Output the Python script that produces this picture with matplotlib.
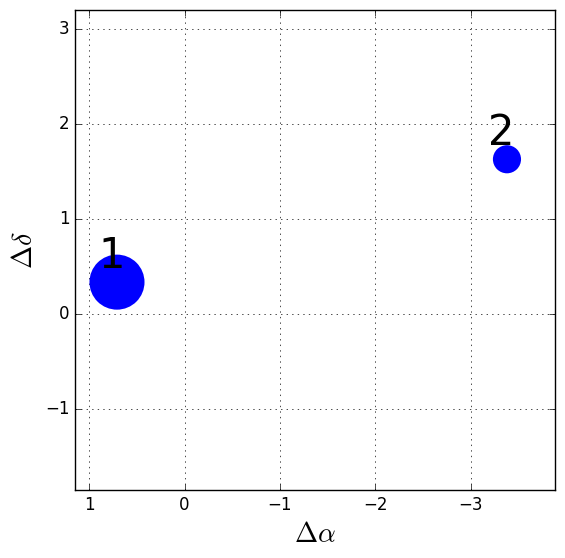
import matplotlib
matplotlib.use('Agg')
import matplotlib.pyplot as plt

plt.style.use('classic')

# source offsets
dalpha = [0.707, -3.377]
ddelta = [0.337, 1.63]
sizes = [1570, 410]
labels = ['1', '2']

fig = plt.figure(figsize=(5.65, 5.58), dpi=100, facecolor='white')
ax = fig.add_axes([0.1327, 0.1219, 0.8496, 0.8601])

ax.scatter(dalpha, ddelta, s=sizes, c='b', edgecolors='none', zorder=3)
for x, y, lab in zip(dalpha, ddelta, labels):
    ax.text(x + 0.06, y + 0.15, lab, fontsize=30, ha='center', va='baseline', zorder=4)

ax.set_xlim(1.147, -3.88)
ax.set_ylim(-1.85, 3.2)
ax.set_xticks([1, 0, -1, -2, -3])
ax.set_yticks([-1, 0, 1, 2, 3])
ax.grid(True)
ax.set_xlabel(r'$\Delta\alpha$', fontsize=20)
ax.set_ylabel(r'$\Delta\delta$', fontsize=20)

fig.savefig('out.png', dpi=100, facecolor='white')
